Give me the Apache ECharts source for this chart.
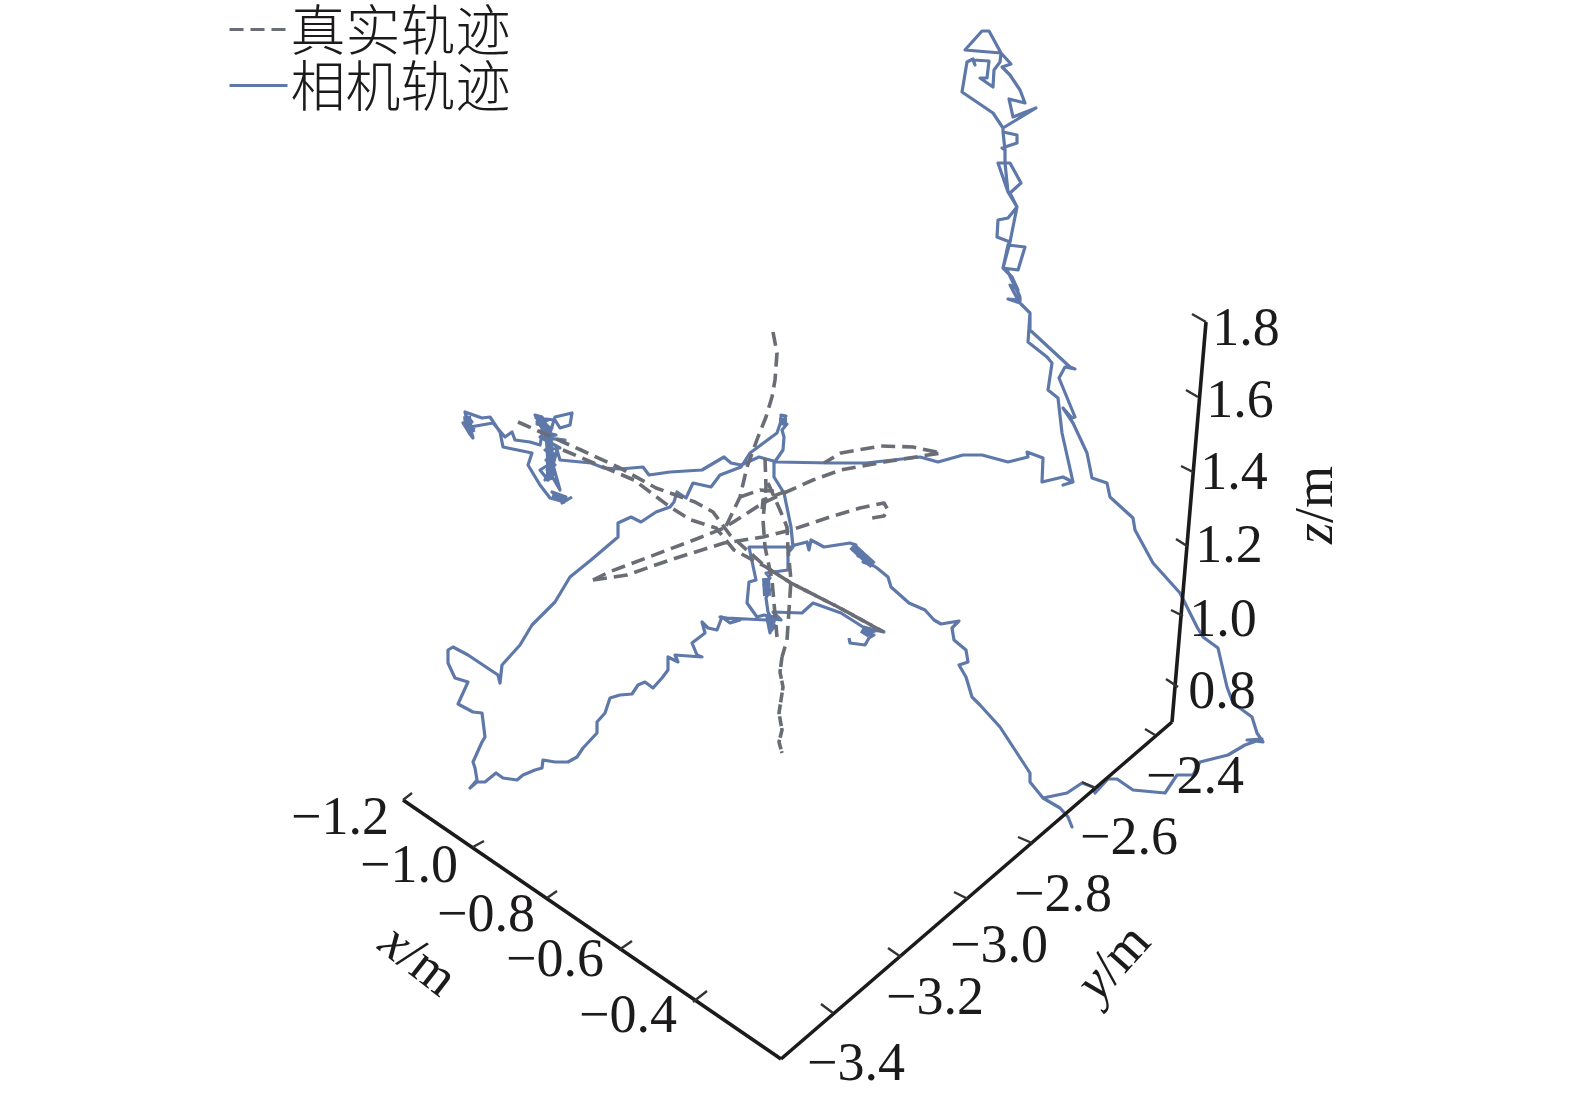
<!DOCTYPE html>
<html><head><meta charset="utf-8">
<style>html,body{margin:0;padding:0;background:#fff}#c{width:1575px;height:1100px}</style>
<script src="https://cdn.jsdelivr.net/npm/echarts@6/dist/echarts.min.js"></script>
</head><body><div id="c"></div>
<script>
// Projected trajectory points (drawing-plane coordinates)
const cameraTrack = [[572,497],[562,503],[566,497],[552,492],[562,500],[550,498],[540,485],[528,465],[532,453],[503,447],[500,432],[490,417],[482,418],[465,412],[466,416],[472,422],[465,424],[474,428],[463,423],[470,434],[473,438],[470,427],[493,423],[505,437],[512,432],[515,440],[530,442],[540,445],[543,430],[535,415],[542,417],[550,433],[555,417],[572,413],[570,425],[560,428],[555,420],[536,418],[548,420],[537,424],[552,428],[540,431],[556,435],[542,438],[565,440],[540,437],[560,448],[545,450],[556,455],[546,460],[555,465],[547,470],[553,475],[548,480],[540,470],[553,462],[545,480],[553,478],[560,490],[553,465],[557,450],[560,460],
[591,463],[604,468],[620,469],[643,467],[649,475],[670,472],[702,470],[724,457],[731,463],[741,465],[759,457],[777,462],[831,463],[866,463],[920,457],[938,462],[963,455],[982,455],[1008,462],[1028,457],[1027,452],[1043,458],[1042,482],[1063,477],[1073,482],[1063,485],[1073,482],[1062,433],[1058,398],[1048,390],[1052,363],[1047,357],[1028,342],[1030,313],[1020,303],[1008,299],[1018,300],[1010,285],[1018,290],[1012,277],[1020,297],[1007,270],[1003,268],[1018,270],[1025,247],[1008,245],[1003,268],[1008,245],[1010,242],[1017,207],[1008,218],[998,220],[997,237],[1010,242],[1017,207],[1010,193],[1021,183],[1010,163],[998,163],[1008,192],[1010,193],[998,163],[1005,163],[1005,150],[1002,148],[1017,143],[1017,135],[1003,132],[1003,128],
[993,113],[962,92],[967,62],[973,59],[975,65],[973,60],[989,61],[987,78],[980,78],[993,87],[994,70],[1000,62],[1001,53],[965,50],[982,31],[989,31],[1001,53],[1011,64],[1002,67],[1010,75],[1020,90],[1025,103],[1009,99],[1013,117],[1036,108],[1003,128],
[1003,132],[1005,150],[1005,163],[1008,192],[1017,207],[1010,242],[1003,268],[1012,277],[1020,297],[1020,303],[1030,313],[1030,330],[1070,367],[1075,369],[1065,367],[1059,378],[1075,417],[1072,418],[1063,408],[1073,423],[1087,453],[1092,478],[1107,483],[1110,497],[1133,518],[1135,530],[1153,563],[1180,593],[1197,627],[1203,637],[1218,648],[1227,687],[1233,703],[1252,717],[1257,733],[1263,742],[1247,740],[1262,739],[1245,745],[1228,755],[1200,762],[1193,775],[1177,775],[1165,793],[1133,790],[1117,779],[1108,779],[1095,793],[1093,787],[1082,783],[1067,793],[1043,798],[1060,808],[1068,817],[1072,827],[1068,817],[1060,808],[1043,798],[1030,782],[1030,773],[1000,727],[980,705],[972,697],[966,677],[959,665],[968,662],[966,650],[954,640],[952,628],[959,621],[941,624],[934,620],[925,610],[909,603],[891,587],[888,577],[877,568],[874,566],[863,562],[868,558],[858,556],[862,552],[853,550],[856,545],[850,543],[824,547],[811,540],[809,550],[807,542],[795,545],[791,547],[749,547],[756,580],[749,582],[747,603],[757,617],[764,615],[778,618],[768,622],[775,626],[770,632],[772,618],[766,620],
[727,618],[720,617],[740,620],[730,623],[722,617],[717,630],[708,628],[702,622],[705,633],[692,643],[697,655],[702,657],[675,655],[678,662],[668,657],[668,670],[662,678],[653,688],[645,682],[638,685],[632,694],[620,695],[610,698],[605,713],[597,722],[597,733],[583,748],[577,757],[568,762],[555,762],[543,760],[542,768],[535,770],[523,775],[517,780],[503,778],[496,773],[485,782],[477,782],[470,788],[477,780],[475,768],[473,762],[482,742],[485,737],[482,713],[473,712],[458,704],[468,682],[455,678],[448,663],[448,650],[453,647],[468,655],[498,675],[500,683],[502,665],[520,645],[532,625],[555,602],[570,577],[591,560],[618,537],[618,523],[631,517],[641,522],[656,512],[670,507],[674,502],[677,492],[686,498],[693,483],[711,487],[720,475],[741,467],[750,453],[777,433],[781,421],[781,415],[786,416],[781,424],[787,424],[782,430],[784,437],[783,450],[774,463],[774,477],[784,493],[791,527],[793,547],[788,553],[788,570],[766,573],[770,578],[764,585],[770,590],[766,598],[768,612],[772,620],[770,633],[767,618],[781,620],[773,612],[802,613],[813,603],[841,613],[863,627],[884,632],[865,628],[878,630],[866,634],[874,635],[869,638],[865,645],[850,643],[849,638]];

// Spots where the camera track overlaps itself so densely that it reads as a solid patch
const cameraDenseCluster = [[538,419],[546,428],[549,442],[550,458],[550,478]];
const cameraDenseFoot = [[552,496],[566,500]];
const cameraDenseLeft = [[467,416],[468,425],[472,433]];
const cameraDenseTip = [[783,418],[783,424]];
const cameraDenseBend = [[852,546],[864,557],[873,565]];
const cameraDenseCentre = [[766,578],[767,596]];
const cameraDenseLow = [[767,618],[776,620]];
const cameraDenseEnd = [[862,629],[870,634]];
const cameraDenseDensePatches = [cameraDenseCluster,cameraDenseFoot,cameraDenseLeft,cameraDenseTip,cameraDenseBend,cameraDenseCentre,cameraDenseLow,cameraDenseEnd];

const trueTrackVertical = [[773,332],[777,353],[775,380],[772,397],[766,417],[758,437],[747,467],[740,497],[728,522],[725,528]];
const trueTrackUpperLeftA = [[518,422],[581,450],[620,468],[656,488],[695,502],[713,512],[730,535],[766,567],[791,583],[838,607],[884,632]];
const trueTrackUpperLeftB = [[563,450],[634,480],[670,507],[691,520],[716,528],[734,550],[766,567],[791,583],[838,607],[880,630]];
const trueTrackRightA = [[593,580],[609,572],[649,557],[699,538],[724,528],[763,503],[784,493],[813,480],[841,470],[884,462],[941,453],[913,447],[881,446],[841,453],[824,463]];
const trueTrackRightB = [[593,580],[627,575],[670,560],[724,543],[763,537],[791,530],[830,517],[860,508],[884,503],[888,510],[884,516],[866,519]];
const trueTrackCrossA = [[765,458],[766,487],[763,520],[765,547],[772,580],[774,603],[777,637]];
const trueTrackCrossB = [[768,483],[780,510],[787,527],[788,550],[791,580],[787,640],[782,657]];
const trueTrackCrossC = [[740,497],[760,490],[784,492],[763,500],[762,512]];
const trueTrackTail = [[782,657],[780,672],[783,687],[781,700],[779,713],[782,730],[779,742],[782,753]];

// Axis frame and tick marks of the 3-D box
const xAxisLine = [[403,800],[781,1059]];
const yAxisLine = [[781,1059],[1172,722]];
const zAxisLine = [[1172,722],[1206,322]];
const xTickMarks = [[[403,800],[412,793]],[[473,847],[484,841]],[[547,898],[557,891]],[[619,950],[632,941]],[[693,1002],[707,991]]];
const yTickMarks = [[[1145,729],[1155,735]],[[1082,782],[1095,788]],[[1018,837],[1032,843]],[[954,892],[968,899]],[[888,948],[901,957]],[[821,1004],[833,1013]]];
const zTickMarks = [[[1192,314],[1206,322]],[[1186,390],[1198,397]],[[1181,466],[1193,472]],[[1176,539],[1187,546]],[[1171,610],[1183,616]],[[1166,679],[1178,687]]];

// Tick labels
const xTickLabels = ['−1.2','−1.0','−0.8','−0.6','−0.4'];
const xLabelAt = [[340,820],[409,868],[486,917],[555,962],[628,1018]];
const yTickLabels = ['−2.4','−2.6','−2.8','−3.0','−3.2','−3.4'];
const yLabelAt = [[1195,779],[1129,840],[1063,897],[999,948],[935,1000],[856,1066]];
const zTickLabels = ['1.8','1.6','1.4','1.2','1.0','0.8'];
const zLabelAt = [[1246,331],[1240,403],[1234,475],[1229,548],[1223,622],[1222,694]];

const TRUE_NAME = '真实轨迹', CAM_NAME = '相机轨迹';
const BLUE = '#5d78a9', GRAY = '#6a6d75', INK = '#1c1a1a';
const SERIF = '"Liberation Serif","Noto Sans CJK SC",serif';

function pathSeries(name, data, color, width, type, z) {
  return {type:'line', name, data, showSymbol:false, symbol:'none', silent:true, z,
    lineStyle:{color, width, type, join:'round', cap:'butt'}, itemStyle:{color}, animation:false};
}
function labelSeries(texts, at) {
  return {type:'scatter', silent:true, symbolSize:1, itemStyle:{color:'#fff', opacity:1}, animation:false, z:5,
    data: at.map((p,i)=>({value:p, label:{formatter:texts[i]}})),
    label:{show:true, position:'inside', align:'center', verticalAlign:'middle', opacity:1,
      fontFamily:SERIF, fontSize:54, color:INK}};
}
function nameSeries(pos, head, rotate) {
  return {type:'scatter', silent:true, symbolSize:1, itemStyle:{color:'#fff', opacity:1}, animation:false, z:5,
    data:[{value:pos}],
    label:{show:true, position:'inside', align:'center', verticalAlign:'middle', rotate, opacity:1,
      formatter:'{i|'+head+'}{r|/m}',
      rich:{i:{fontFamily:SERIF,fontSize:54,fontStyle:'italic',color:INK},r:{fontFamily:SERIF,fontSize:54,color:INK}}}};
}
const dash = [14,7];
const W = 3.2, GW = 3.6;
const series = [
  pathSeries(CAM_NAME, cameraTrack, BLUE, W, 'solid', 2),
  ...cameraDenseDensePatches.map(p => pathSeries('dense', p, BLUE, 8, 'solid', 2)),
  pathSeries(TRUE_NAME, trueTrackVertical, GRAY, GW, dash, 3),
  pathSeries(TRUE_NAME, trueTrackUpperLeftA, GRAY, GW, dash, 3),
  pathSeries(TRUE_NAME, trueTrackUpperLeftB, GRAY, GW, dash, 3),
  pathSeries(TRUE_NAME, trueTrackRightA, GRAY, GW, dash, 3),
  pathSeries(TRUE_NAME, trueTrackRightB, GRAY, GW, dash, 3),
  pathSeries(TRUE_NAME, trueTrackCrossA, GRAY, GW, dash, 3),
  pathSeries(TRUE_NAME, trueTrackCrossB, GRAY, GW, dash, 3),
  pathSeries(TRUE_NAME, trueTrackCrossC, GRAY, GW, dash, 3),
  pathSeries(TRUE_NAME, trueTrackTail, GRAY, GW, [10,2], 3),
  pathSeries('x', xAxisLine, INK, 3.6, 'solid', 4),
  pathSeries('y', yAxisLine, INK, 3.6, 'solid', 4),
  pathSeries('z', zAxisLine, INK, 3.6, 'solid', 4),
  ...[...xTickMarks, ...yTickMarks, ...zTickMarks].map(t => pathSeries('tick', t, '#333', 2.4, 'solid', 4)),
  labelSeries(xTickLabels, xLabelAt),
  labelSeries(yTickLabels, yLabelAt),
  labelSeries(zTickLabels, zLabelAt),
  nameSeries([417,962], 'x', -38),
  nameSeries([1115,964], 'y', 48),
  nameSeries([1318,505], 'z', 90)
];

const chart = echarts.init(document.getElementById('c'), null, {renderer:'canvas'});
chart.setOption({
  animation:false,
  backgroundColor:'#fff',
  grid:{left:0,right:0,top:0,bottom:0},
  xAxis:{type:'value',min:0,max:1575,show:false},
  yAxis:{type:'value',min:0,max:1100,inverse:true,show:false},
  legend:{show:true,data:[TRUE_NAME,CAM_NAME],orient:'vertical',left:223,top:-3,
    itemWidth:58,itemHeight:4,itemGap:1,selectedMode:false,
    lineStyle:{width:3},
    textStyle:{fontFamily:'"Noto Sans CJK SC"',fontSize:55,fontWeight:300,color:INK,padding:[0,0,0,-2]}},
  series
});
</script></body></html>
